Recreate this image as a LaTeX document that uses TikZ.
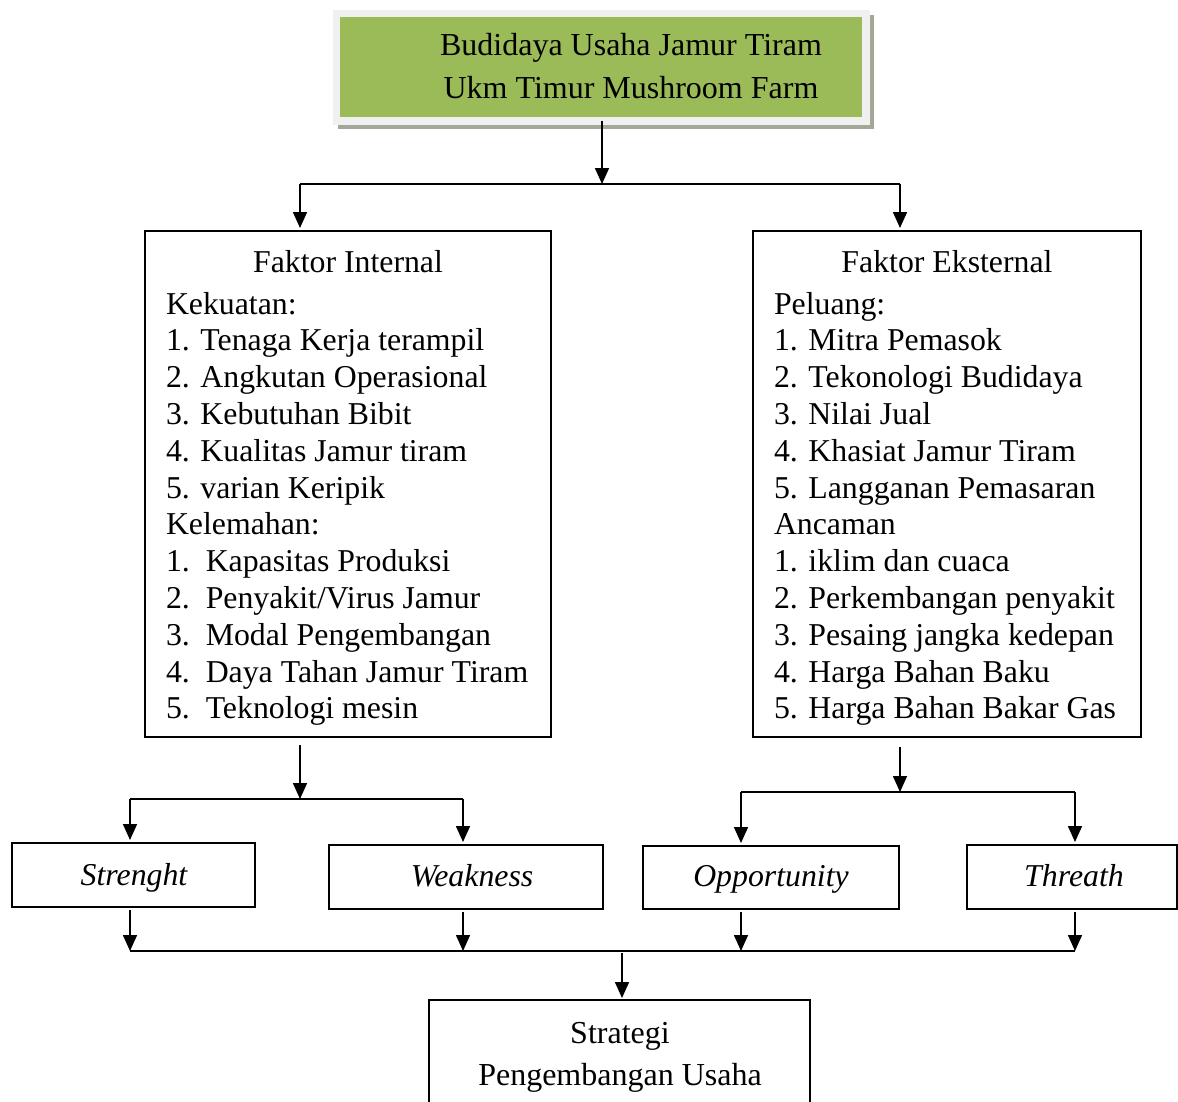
\documentclass[tikz,border=0pt]{standalone}
\usepackage{fontspec}
\setmainfont{Liberation Serif}
\usetikzlibrary{arrows.meta}
\definecolor{oliveG}{HTML}{9BBB59}
\definecolor{frameG}{HTML}{F0F0F0}
\definecolor{shadowG}{HTML}{A3A797}
\begin{document}
\begin{tikzpicture}[x=0.5pt,y=-0.5pt,
  box/.style={draw, line width=0.8pt, inner sep=0pt, outer sep=0pt},
  txt/.style={inner sep=0pt, outer sep=0pt, font=\fontsize{15.9}{18.5}\selectfont},
  ttl/.style={inner sep=0pt, outer sep=0pt, font=\fontsize{16}{20}\selectfont},
  itx/.style={inner sep=0pt, outer sep=0pt, font=\fontsize{15.9}{18.5}\selectfont\itshape},
  ln/.style={line width=0.8pt},
  arr/.style={line width=0.8pt, -{Triangle[width=7pt,length=8pt]}}]
\useasboundingbox (0,0) rectangle (1178,1102);
% top box with frame and shadow
\fill[shadowG] (338,15) rectangle (874,129);
\fill[frameG] (333,10) rectangle (870,125);
\node[inner sep=0pt, outer sep=0pt, fill=oliveG, minimum width={522*0.5pt}, minimum height={100*0.5pt}] (tb) at (601,67) {};
\node[ttl, anchor=base] (tt1) at (631,56) {Budidaya Usaha Jamur Tiram};
\node[ttl, anchor=base] (tt2) at (631,99) {Ukm Timur Mushroom Farm};
% factor boxes
\node[box, minimum width={406*0.5pt}, minimum height={506*0.5pt}] (fi) at (348,484) {};
\node[box, minimum width={388*0.5pt}, minimum height={506*0.5pt}] (fe) at (947,484) {};
\node[txt, anchor=base] (fit) at (348,272) {Faktor Internal};
\node[txt, anchor=base] (fet) at (947,272) {Faktor Eksternal};
\foreach \t [count=\i] in {Kekuatan:, 1. Tenaga Kerja terampil, 2. Angkutan Operasional, 3. Kebutuhan Bibit, 4. Kualitas Jamur tiram, 5. varian Keripik, Kelemahan:, 1.\ \ Kapasitas Produksi, 2.\ \ Penyakit/Virus Jamur, 3.\ \ Modal Pengembangan, 4.\ \ Daya Tahan Jamur Tiram, 5.\ \ Teknologi mesin}
  \node[txt, anchor=base west] (li\i) at (166,{314+36.8*(\i-1)}) {\t};
\foreach \t [count=\i] in {Peluang:, 1. Mitra Pemasok, 2. Tekonologi Budidaya, 3. Nilai Jual, 4. Khasiat Jamur Tiram, 5. Langganan Pemasaran, Ancaman, 1. iklim dan cuaca, 2. Perkembangan penyakit, 3. Pesaing jangka kedepan, 4. Harga Bahan Baku, 5. Harga Bahan Bakar Gas}
  \node[txt, anchor=base west] (le\i) at (774,{314+36.8*(\i-1)}) {\t};
% SWOT boxes
\node[box, minimum width={243*0.5pt}, minimum height={64*0.5pt}] (st) at (133.5,875) {};
\node[box, minimum width={274*0.5pt}, minimum height={64*0.5pt}] (wk) at (466,877) {};
\node[box, minimum width={256*0.5pt}, minimum height={63*0.5pt}] (op) at (771,877.5) {};
\node[box, minimum width={210*0.5pt}, minimum height={64*0.5pt}] (th) at (1072,877) {};
\node[itx, anchor=base] (stt) at (134,885) {Strenght};
\node[itx, anchor=base] (wkt) at (472,886) {Weakness};
\node[itx, anchor=base] (opt) at (771,886) {Opportunity};
\node[itx, anchor=base] (tht) at (1074,886) {Threath};
% strategy box
\node[box, minimum width={381*0.5pt}, minimum height={110*0.5pt}] (sp) at (619.5,1055) {};
\node[ttl, anchor=base] (sp1) at (620,1043) {Strategi};
\node[ttl, anchor=base] (sp2) at (620,1085) {Pengembangan Usaha};
% junction coordinates
\coordinate (j0) at (602,184);
\coordinate (jL) at (300,184);
\coordinate (jR) at (900,184);
\coordinate (k0) at (300,799);
\coordinate (kL) at (130,799);
\coordinate (kR) at (463,799);
\coordinate (m0) at (900,792);
\coordinate (mL) at (741,792);
\coordinate (mR) at (1075,792);
\coordinate (bL) at (130,951);
\coordinate (bW) at (463,951);
\coordinate (bO) at (741,951);
\coordinate (bR) at (1075,951);
\coordinate (b0) at (622,951);
% connectors
\draw[arr, shorten <=2pt] (tb.south -| j0) -- (j0);
\draw[ln] (jL) -- (jR);
\draw[arr, shorten >=1.5pt] (jL) -- (jL |- fi.north);
\draw[arr, shorten >=1.5pt] (jR) -- (jR |- fe.north);
\draw[arr, shorten <=4pt] (fi.south -| k0) -- (k0);
\draw[ln] (kL) -- (kR);
\draw[arr, shorten >=1.5pt] (kL) -- (kL |- st.north);
\draw[arr, shorten >=1.5pt] (kR) -- (kR |- wk.north);
\draw[arr, shorten <=5pt] (fe.south -| m0) -- (m0);
\draw[ln] (mL) -- (mR);
\draw[arr, shorten >=1.5pt] (mL) -- (mL |- op.north);
\draw[arr, shorten >=1.5pt] (mR) -- (mR |- th.north);
\draw[arr, shorten <=1.5pt] (st.south -| bL) -- (bL);
\draw[arr, shorten <=1.5pt] (wk.south -| bW) -- (bW);
\draw[arr, shorten <=1.5pt] (op.south -| bO) -- (bO);
\draw[arr, shorten <=1.5pt] (th.south -| bR) -- (bR);
\draw[ln] (bL) -- (bR);
\draw[arr, shorten <=1pt, shorten >=1pt] (b0) -- (b0 |- sp.north);
\end{tikzpicture}
\end{document}
